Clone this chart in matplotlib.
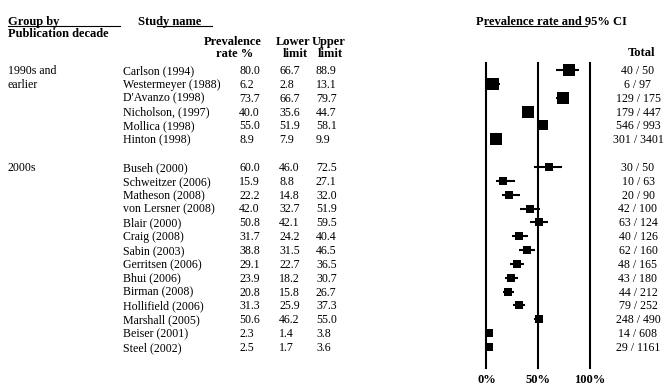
import matplotlib.pyplot as plt

plt.rcParams['font.family'] = ['Liberation Serif', 'DejaVu Serif']

groups = [['1990s and', 'earlier'], ['2000s']]
studies = [
    ['Carlson (1994)', 'Westermeyer (1988)', "D'Avanzo (1998)", 'Nicholson, (1997)',
     'Mollica (1998)', 'Hinton (1998)'],
    ['Buseh (2000)', 'Schweitzer (2006)', 'Matheson (2008)', 'von Lersner (2008)',
     'Blair (2000)', 'Craig (2008)', 'Sabin (2003)', 'Gerritsen (2006)', 'Bhui (2006)',
     'Birman (2008)', 'Hollifield (2006)', 'Marshall (2005)', 'Beiser (2001)', 'Steel (2002)'],
]
rate = [[80.0, 6.2, 73.7, 40.0, 55.0, 8.9],
        [60.0, 15.9, 22.2, 42.0, 50.8, 31.7, 38.8, 29.1, 23.9, 20.8, 31.3, 50.6, 2.3, 2.5]]
lower = [[66.7, 2.8, 66.7, 35.6, 51.9, 7.9],
         [46.0, 8.8, 14.8, 32.7, 42.1, 24.2, 31.5, 22.7, 18.2, 15.8, 25.9, 46.2, 1.4, 1.7]]
upper = [[88.9, 13.1, 79.7, 44.7, 58.1, 9.9],
         [72.5, 27.1, 32.0, 51.9, 59.5, 40.4, 46.5, 36.5, 30.7, 26.7, 37.3, 55.0, 3.8, 3.6]]
totals = [['40 / 50', '6 / 97', '129 / 175', '179 / 447', '546 / 993', '301 / 3401'],
          ['30 / 50', '10 / 63', '20 / 90', '42 / 100', '63 / 124', '40 / 126', '62 / 160',
           '48 / 165', '43 / 180', '44 / 212', '79 / 252', '248 / 490', '14 / 608', '29 / 1161']]
# relative box weights
weights = [[1.0, 1.0, 1.0, 1.05, 0.95, 1.0],
           [0.72, 0.72, 0.72, 0.72, 0.72, 0.72, 0.72, 0.72, 0.72, 0.72, 0.72, 0.75, 0.65, 0.65]]
ticks = [0, 50, 100]

fig = plt.figure(figsize=(6.67, 3.85), dpi=100)
ax = fig.add_axes([0, 0, 1, 1])
ax.set_xlim(0, 667)
ax.set_ylim(385, 0)
ax.axis('off')

# forest panel: same y (pixel rows), x in percent
px0, pxs = 486.5, 1.035
fx = fig.add_axes([0, 0, 1, 1])
fx.set_xlim(-px0 / pxs, (667 - px0) / pxs)
fx.set_ylim(385, 0)
fx.axis('off')

fs = 8.6
y0, dy = 70, 13.85
bl = 4  # baseline offset below row centre

# headers
hb = dict(fontsize=9, fontweight='bold', va='baseline')
ax.text(8, 21 + bl, 'Group by', **hb)
ax.plot([8, 120], [26, 26], color='black', lw=0.8)
ax.text(8, 33 + bl, 'Publication decade', **hb)
ax.text(138, 21 + bl, 'Study name', **hb)
ax.plot([157, 212], [26, 26], color='black', lw=0.8)
ax.text(233, 41 + bl, 'Prevalence', ha='center', **hb)
ax.text(235, 53 + bl, 'rate %', ha='center', **hb)
ax.text(293, 41 + bl, 'Lower', ha='center', **hb)
ax.text(295, 53 + bl, 'limit', ha='center', **hb)
ax.text(329, 41 + bl, 'Upper', ha='center', **hb)
ax.text(330, 53 + bl, 'limit', ha='center', **hb)
ax.text(551, 21 + bl, 'Prevalence rate and 95% CI', ha='center', **hb)
ax.plot([485, 587], [26, 26], color='black', lw=0.8)
ax.text(642, 52 + bl, 'Total', ha='center', **hb)

k = 0
for g in range(len(groups)):
    for j, line in enumerate(groups[g]):
        ax.text(8, y0 + (k + j) * dy + bl, line, fontsize=fs, va='baseline')
    for i in range(len(studies[g])):
        y = y0 + k * dy
        ax.text(123, y + bl, studies[g][i], fontsize=fs, va='baseline')
        ax.text(239, y + bl, f'{rate[g][i]:.1f}', fontsize=fs, va='baseline')
        ax.text(279, y + bl, f'{lower[g][i]:.1f}', fontsize=fs, va='baseline')
        ax.text(316, y + bl, f'{upper[g][i]:.1f}', fontsize=fs, va='baseline')
        ax.text(638, y + bl, totals[g][i], fontsize=fs, va='baseline', ha='center')
        fx.plot([lower[g][i], upper[g][i]], [y, y], color='black', lw=1.5,
                solid_capstyle='butt')
        fx.plot(rate[g][i], y, marker='s', color='black', ms=8 * weights[g][i], mew=0)
        k += 1
    k += 1

for t in ticks:
    fx.plot([t, t], [63, 368], color='black', lw=1.5)
    fx.text(t, 379 + bl, f'{t}%', ha='center', **hb)

fig.savefig('out.png', dpi=100)
